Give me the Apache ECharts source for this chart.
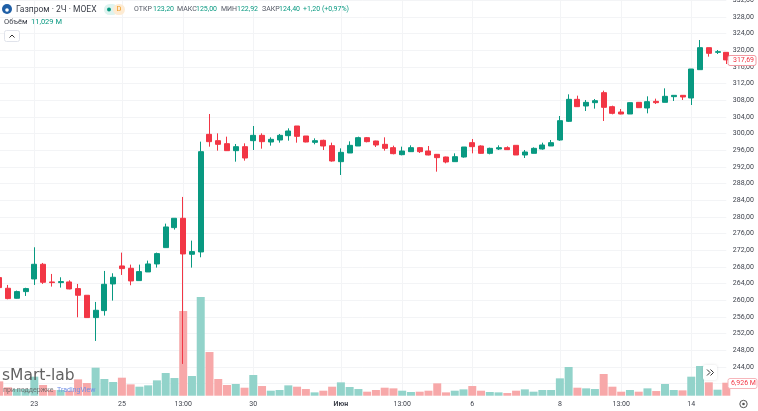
<!DOCTYPE html>
<html>
<head>
<meta charset="utf-8">
<title>Газпром 2Ч</title>
<script src="https://cdn.jsdelivr.net/npm/echarts@6/dist/echarts.min.js"></script>
<style>
html, body { margin: 0; padding: 0; background: #fff; overflow: hidden; }
#myChart { width: 758px; height: 411px; filter: blur(0.4px); }
</style>
</head>
<body>
<div id="myChart"></div>
<script>
// свечи, значения
const opens = [
  265.44,262.88,260.48,262.08,265.12,268.64,264.4,264.24,264.4,262.8,261.2,255.84,257.52,263.92,268.24,267.68,264.72,266.8,268.72,272.64,277.44,279.68,271.04,271.6,
  299.83,298.31,297.59,295.91,296.87,298.31,299.59,297.99,298.47,299.51,301.83,299.43,297.91,298.39,297.11,293.27,295.35,297.03,299.03,298.23,
  297.43,296.63,294.95,295.67,296.63,295.83,295.03,294.39,293.27,294.39,297.83,297.03,295.27,296.31,296.63,297.19,294.87,295.27,296.31,297.03,
  298.47,302.95,308.23,306.63,307.43,309.83,306.47,305.19,304.71,307.51,306.15,307.75,307.51,308.87,309.19,308.55,315.35,320.63,319.51,319.51
];
const closes = [
  263.04,260.4,262.08,262.8,268.64,264.32,264.24,264.48,262.72,261.2,255.84,257.6,263.84,265.52,267.6,264.64,266.88,268.72,271.2,277.6,279.68,271.12,271.68,295.67,
  298.07,297.43,295.91,296.87,294.15,299.59,298.07,298.63,299.59,300.63,299.35,297.99,298.31,297.03,293.43,295.51,297.19,299.03,298.07,297.27,
  296.47,295.19,295.83,296.63,295.67,294.87,294.23,293.19,294.47,296.79,296.87,295.27,296.47,296.63,296.15,294.87,295.59,296.47,297.27,297.83,
  303.11,308.23,306.47,307.51,307.91,306.31,304.87,304.71,307.43,306.23,307.67,307.43,308.95,309.19,308.79,315.51,320.63,319.27,319.67,317.69
];
const lows = [
  262.6,260.24,260.4,261.04,263.68,263.92,263.28,263.04,262.64,255.92,255.84,250.24,256.32,259.92,266.08,263.6,264.72,266.8,267.84,272.64,276.96,244.72,267.84,270.32,
  296.87,295.91,295.83,293.27,293.51,296.07,296.39,297.11,297.83,298.31,297.83,297.91,297.43,296.07,293.27,290.07,295.35,297.03,297.91,296.79,
  295.91,295.03,294.79,295.59,295.35,294.79,290.87,292.87,293.27,294.23,295.27,295.19,295.03,296.07,296.07,294.87,294.15,295.27,296.15,297.03,
  298.3,302.79,306.39,305.43,305.99,303.03,304.63,304.63,304.71,306.15,304.87,307.11,307.51,307.83,308.07,306.87,315.35,318.47,319.11,316.71
];
const highs = [
  266,263.68,262.32,263,272.72,268.96,266.32,265.52,264.8,263.92,261.2,259.6,267.04,266.48,271.44,268.56,268.56,269.52,271.44,278.4,279.68,284.8,274.32,298.07,
  304.71,300.07,299.27,297.51,297.67,301.83,300.07,299.11,299.91,301.27,301.83,299.43,298.87,298.55,297.83,296.47,298.15,299.27,299.19,298.3,
  299.11,297.11,296.87,297.19,296.79,297.03,295.11,294.47,295.27,296.79,298.71,297.19,296.63,297.19,296.95,297.19,296.07,296.71,297.83,298.47,
  304.23,309.43,309.11,308.07,308.31,310.31,306.71,305.91,307.51,307.59,308.95,308.39,310.87,309.19,309.27,315.51,322.47,320.63,320.07,319.51
];
// объём, млн
const volumes = [
  7.65,4.45,3.56,3.56,10.15,5.7,3.03,3.03,2.67,8.72,6.76,14.95,8.9,7.3,9.61,6.05,4.81,5.52,8.19,12.1,9.43,45.2,10.5,52.7,23.3,8.9,5.7,6.23,4.27,
  11.04,5.16,2.67,3.03,5.52,4.81,3.56,1.78,2.67,4.81,7.12,4.63,3.56,2.14,3.03,4.27,3.92,2.67,1.96,2.14,2.67,6.59,1.78,2.67,3.38,5.16,2.67,1.96,1.78,
  1.42,2.67,3.38,2.14,3.03,3.03,9.26,15.31,4.27,3.92,3.56,11.57,4.81,2.14,3.03,2.14,3.92,2.49,6.23,3.03,2.85,10.15,15.84,7.12,3.2,6.926
];
// подписи времени: индекс свечи -> текст
const tickLabels = {4:'23',14:'25',21:'13:00',29:'30',39:'Июн',46:'13:00',54:'6',64:'8',71:'13:00',79:'14'};
const categories = opens.map((v, i) => tickLabels[i] || '');

const upColor = '#089981';
const downColor = '#f23645';
const upVolume = '#92d3ca';
const downVolume = '#f7a8a9';
const gridColor = '#f3f4f6';
const textColor = '#3f434d';
const font = 'Roboto, "Noto Sans", sans-serif';

const isTick = (i) => !!tickLabels[i];

function txt(x, y, text, color, size, extra) {
  return {
    type: 'text', x: x, y: y, z: 20,
    style: Object.assign({ text: text, fill: color, font: size + 'px ' + font, textVerticalAlign: 'middle' }, extra || {})
  };
}

const myChart = echarts.init(document.getElementById('myChart'), null, { renderer: 'canvas' });
myChart.setOption({
  animation: false,
  backgroundColor: '#fff',
  grid: [
    { left: -0.74, width: 727.04, top: 0.3, height: 383.3, outerBoundsMode: 'none' },
    { left: -0.74, width: 727.04, top: 296, height: 99.7, outerBoundsMode: 'none' }
  ],
  xAxis: [
    {
      type: 'category', gridIndex: 0, data: categories, boundaryGap: false,
      axisLine: { show: false }, axisTick: { show: false }, axisLabel: { show: false },
      splitLine: { show: true, interval: isTick, lineStyle: { color: gridColor, width: 1 } }
    },
    {
      type: 'category', gridIndex: 1, data: categories, boundaryGap: false,
      axisLine: { show: false }, axisTick: { show: false },
      splitLine: { show: true, interval: isTick, lineStyle: { color: gridColor, width: 1 } },
      axisLabel: {
        interval: isTick, margin: 5, fontSize: 7, fontFamily: font, color: textColor,
        formatter: (v) => v === 'Июн' ? '{b|Июн}' : v,
        rich: { b: { fontSize: 7, fontWeight: 'bold', fontFamily: font, color: textColor } }
      }
    }
  ],
  yAxis: [
    {
      type: 'value', gridIndex: 0, position: 'right', min: 240, max: 332, interval: 4,
      axisLine: { show: false }, axisTick: { show: false },
      splitLine: { show: true, lineStyle: { color: gridColor, width: 1 } },
      axisLabel: {
        margin: 6.5, fontSize: 7, fontFamily: font, color: textColor,
        showMinLabel: false,
        formatter: (v) => v.toFixed(2).replace('.', ',')
      }
    },
    {
      type: 'value', gridIndex: 1, position: 'right', min: 0, max: 53.2,
      axisLine: { show: false }, axisTick: { show: false }, axisLabel: { show: false }, splitLine: { show: false }
    }
  ],
  series: [
    {
      type: 'bar', name: 'Объём', xAxisIndex: 1, yAxisIndex: 1, barWidth: 8, clip: false, z: 2,
      data: volumes.map((v, i) => ({
        value: v,
        itemStyle: { color: closes[i] >= opens[i] ? upVolume : downVolume }
      }))
    },
    {
      type: 'candlestick', name: 'Газпром', xAxisIndex: 0, yAxisIndex: 0, barWidth: 5.5, clip: false, z: 3,
      itemStyle: { color: upColor, color0: downColor, borderColor: upColor, borderColor0: downColor, borderWidth: 1 },
      data: opens.map((o, i) => [o, closes[i], lows[i], highs[i]])
    }
  ],
  graphic: [
    // шапка
    { type: 'circle', z: 20, shape: { cx: 7, cy: 9, r: 5 }, style: { fill: '#1f5fa6' } },
    { type: 'circle', z: 21, shape: { cx: 7, cy: 10, r: 1.8 }, style: { fill: '#fff' } },
    txt(16, 9.5, 'Газпром · 2Ч · MOEX', '#3a3e48', 8.5),
    { type: 'rect', z: 20, shape: { x: 104, y: 4, width: 14, height: 11, r: 5.5 }, style: { fill: '#def3ef' } },
    { type: 'rect', z: 20, shape: { x: 113, y: 4, width: 12, height: 11, r: 5.5 }, style: { fill: '#fdebd3' } },
    { type: 'circle', z: 21, shape: { cx: 109, cy: 9.5, r: 2 }, style: { fill: upColor } },
    txt(116.5, 9.5, 'D', '#ef9a22', 7.5),
    txt(134, 9.5, 'ОТКР', '#555a66', 7),
    txt(153, 9.5, '123,20', upColor, 7),
    txt(177, 9.5, 'МАКС', '#555a66', 7),
    txt(196, 9.5, '125,00', upColor, 7),
    txt(221, 9.5, 'МИН', '#555a66', 7),
    txt(237, 9.5, '122,92', upColor, 7),
    txt(262, 9.5, 'ЗАКР', '#555a66', 7),
    txt(279, 9.5, '124,40', upColor, 7),
    txt(303, 9.5, '+1,20 (+0,97%)', upColor, 7),
    txt(4, 22.5, 'Объём', '#3a3e48', 7.5),
    txt(31, 22.5, '11,029 M', upColor, 7.5),
    // кнопка свернуть
    { type: 'rect', z: 20, shape: { x: 4.5, y: 30.5, width: 15, height: 11, r: 2 }, style: { fill: '#fff', stroke: '#e0e3eb' } },
    { type: 'polyline', z: 21, shape: { points: [[9.5, 37.5], [12, 35], [14.5, 37.5]] }, style: { stroke: '#333', lineWidth: 1, fill: 'none' } },
    // ярлыки цены и объёма
    { type: 'rect', z: 20, shape: { x: 728, y: 55.5, width: 28, height: 10, r: 2 }, style: { fill: '#fff', stroke: '#f19aa2' } },
    txt(733, 60.5, '317,69', downColor, 7),
    { type: 'rect', z: 20, shape: { x: 728, y: 378.5, width: 29, height: 10, r: 2 }, style: { fill: '#fff', stroke: '#f7b6bb' } },
    txt(731, 383.5, '6,926 M', downColor, 7),
    // кнопка прокрутки и настройки
    { type: 'rect', z: 20, shape: { x: 703, y: 365, width: 14, height: 15, r: 2 }, style: { fill: '#fff', shadowBlur: 3, shadowColor: 'rgba(0,0,0,.12)' } },
    { type: 'polyline', z: 21, shape: { points: [[707, 369.5], [710, 372.5], [707, 375.5]] }, style: { stroke: '#333', lineWidth: 1, fill: 'none' } },
    { type: 'polyline', z: 21, shape: { points: [[710.5, 369.5], [713.5, 372.5], [710.5, 375.5]] }, style: { stroke: '#333', lineWidth: 1, fill: 'none' } },
    { type: 'circle', z: 20, shape: { cx: 743.5, cy: 404, r: 3.7 }, style: { fill: '#fff', stroke: '#555', lineWidth: 1 } },
    { type: 'circle', z: 21, shape: { cx: 743.5, cy: 404, r: 1.3 }, style: { fill: '#555' } },
    // водяной знак
    { type: 'text', x: 2, y: 376, z: 20, style: { text: 'sMart-lab', fill: 'rgba(70,70,70,.85)', font: '15.5px "DejaVu Sans"', textVerticalAlign: 'middle' } },
    txt(3, 390, 'при поддержке', 'rgba(90,90,90,.8)', 7),
    txt(57, 390, 'TradingView', '#6f8fe6', 7)
  ]
});
</script>
</body>
</html>
